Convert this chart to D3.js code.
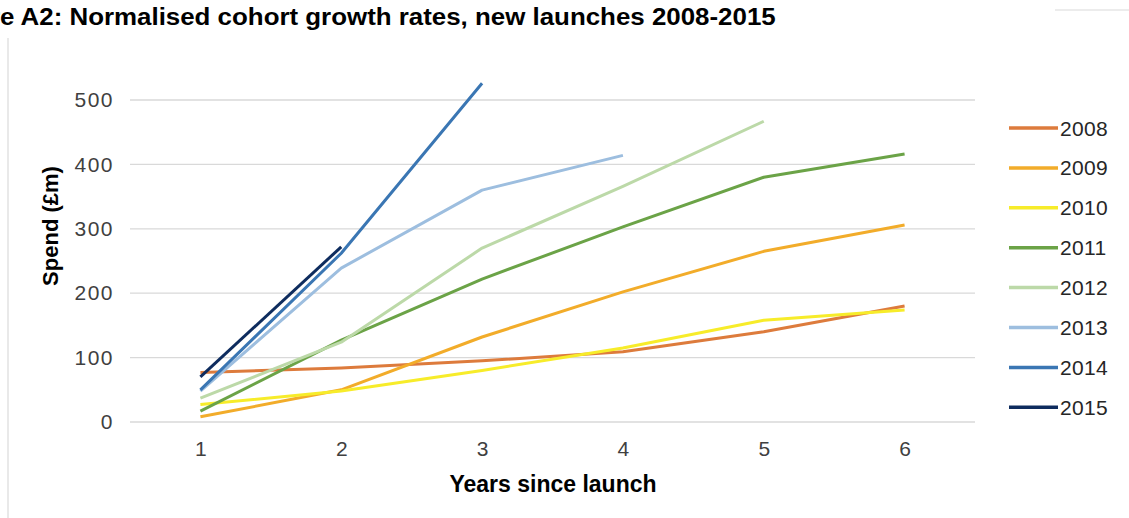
<!DOCTYPE html>
<html><head><meta charset="utf-8">
<script src="https://cdn.jsdelivr.net/npm/d3@7"></script>
<style>body{margin:0;background:#fff;}svg{display:block;font-family:"Liberation Sans",Arial,sans-serif;}</style>
</head><body>
<svg id="chart" width="1129" height="518"></svg>
<script>
const years = [1, 2, 3, 4, 5, 6];
const seriesNames = ["2008","2009","2010","2011","2012","2013","2014","2015"];
const s2008 = [77, 84, 95, 109, 140, 180];
const s2009 = [8, 50, 132, 202, 265, 306];
const s2010 = [27, 48, 80, 115, 158, 174];
const s2011 = [17, 127, 222, 303, 380, 416];
const s2012 = [37, 124, 270, 366, 467];
const s2013 = [48, 239, 360, 414];
const s2014 = [50, 262, 526];
const s2015 = [70, 272];
const seriesValues = [s2008, s2009, s2010, s2011, s2012, s2013, s2014, s2015];
const colors = ["#DD7B3C","#F2AC2A","#F7EC2A","#6BA347","#BCD9A8","#9DBEDF","#3A76B3","#0E2C5E"];
const yTicks = [0, 100, 200, 300, 400, 500];

const svg = d3.select("#chart");
svg.append("line").attr("x1",8).attr("x2",8).attr("y1",38).attr("y2",518).attr("stroke","#e2e2e2").attr("stroke-width",1.5);
svg.append("line").attr("x1",1055).attr("x2",1129).attr("y1",10).attr("y2",10).attr("stroke","#e6e6e6").attr("stroke-width",1.5);

// title, with the clipped prefix kept as real text
const title = svg.append("text").attr("font-size",24).attr("font-weight","bold").attr("fill","#000")
  .text("Figure A2: Normalised cohort growth rates, new launches 2008-2015");
{
  const node = title.node();
  const L = node.getComputedTextLength();
  const P = node.getSubStringLength(0, 5);
  const k = 776 / (L - P);
  title.attr("transform", `translate(${-P*k},25) scale(${k},1)`);
}

const x = d3.scalePoint().domain(years).range([130, 975]).padding(0.5);
const y = d3.scaleLinear().domain([0, 500]).range([422, 100]);

svg.append("g").selectAll("line").data(yTicks).join("line")
  .attr("x1",130).attr("x2",975).attr("y1",d=>y(d)).attr("y2",d=>y(d))
  .attr("stroke","#d9d9d9").attr("stroke-width",1.3);

const yAxis = svg.append("g").attr("transform","translate(130,0)")
  .call(d3.axisLeft(y).tickValues(yTicks).tickSize(0).tickPadding(16));
yAxis.select(".domain").remove();
yAxis.selectAll("text").attr("font-size",21).attr("letter-spacing",1.5).attr("fill","#404040")
  .attr("font-family","Liberation Sans, Arial, sans-serif");

const xAxis = svg.append("g").attr("transform","translate(0,422)")
  .call(d3.axisBottom(x).tickSize(0).tickPadding(19));
xAxis.select(".domain").remove();
xAxis.selectAll("text").attr("font-size",21).attr("fill","#404040")
  .attr("font-family","Liberation Sans, Arial, sans-serif");

svg.append("text").attr("transform","translate(58,226) rotate(-90)").attr("text-anchor","middle")
  .attr("font-size",22).attr("font-weight","bold").attr("fill","#000").text("Spend (£m)");
svg.append("text").attr("x",553).attr("y",492).attr("text-anchor","middle")
  .attr("font-size",23).attr("font-weight","bold").attr("fill","#000").text("Years since launch");

const line = d3.line().x((d,i)=>x(years[i])).y(d=>y(d));
svg.append("g").selectAll("path").data(seriesValues).join("path")
  .attr("d", d=>line(d)).attr("fill","none")
  .attr("stroke",(d,i)=>colors[i]).attr("stroke-width",3).attr("stroke-linejoin","round");

const leg = svg.append("g").selectAll("g").data(seriesNames).join("g")
  .attr("transform",(d,i)=>`translate(1009,${128 + i*39.9})`);
leg.append("line").attr("x1",0).attr("x2",49).attr("stroke",(d,i)=>colors[i]).attr("stroke-width",3.5);
leg.append("text").attr("x",51).attr("y",7.5).attr("font-size",21).attr("letter-spacing",0.3).attr("fill","#262626").text(d=>d);
</script>
</body></html>
